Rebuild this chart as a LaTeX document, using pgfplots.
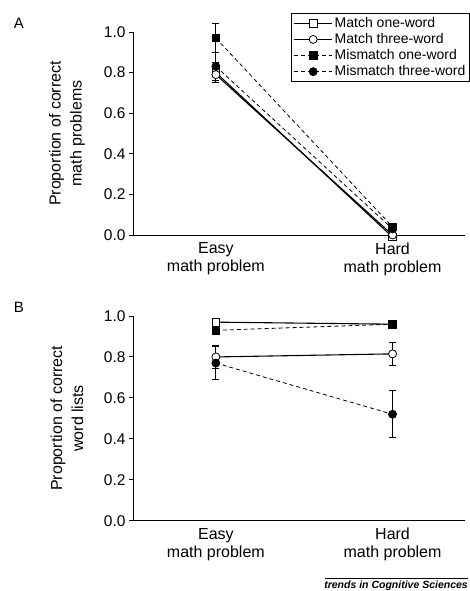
\documentclass[border=0pt]{standalone}
\usepackage{fontspec}
\setmainfont{Liberation Sans}
\usepackage{pgfplots}
\pgfplotsset{compat=1.18}
\pgfplotsset{
 panel/.style={
  scale only axis, width=332bp,
  xmin=-0.469, xmax=1.41, ymin=0, ymax=1,
  axis lines=left, axis line style={-, line width=1pt},
  xtick={0,1}, xticklabels={{Easy\\math problem},{Hard\\math problem}},
  xticklabel style={align=center, font=\fontsize{16bp}{18bp}\selectfont},
  x tick style={draw=none},
  ytick={0,0.2,0.4,0.6,0.8,1.0},
  yticklabel style={font=\fontsize{15.5bp}{17bp}\selectfont},
  /pgf/number format/fixed, /pgf/number format/fixed zerofill,
  /pgf/number format/precision=1, /pgf/number format/assume math mode=true,
  tick align=outside, major tick length=4bp, y tick style={line width=1pt, black},
  ylabel style={at={(axis description cs:-0.199,0.5)}, anchor=center, align=center, font=\fontsize{16bp}{21bp}\selectfont},
  clip=false,
  legend image code/.code={\draw[mark repeat=2,mark phase=2,##1] plot coordinates {(0bp,0bp)(19bp,0bp)(38bp,0bp)};},
 },
 eb/.style={error bars/y dir=both, error bars/y explicit, error bars/error mark options={rotate=90, mark size=3.5bp, line width=0.8pt, solid}, error bars/error bar style={line width=0.8pt, solid}},
 mos/.style={eb, black, solid, line width=1.1pt, mark=square*, mark options={solid, fill=white, line width=0.8pt}, mark size=3.8bp},
 moc/.style={eb, black, solid, line width=1.1pt, mark=*, mark options={solid, fill=white, line width=0.8pt}, mark size=4bp},
 mms/.style={eb, black, dash pattern=on 4pt off 3pt, line width=0.8pt, mark=square*, mark options={solid, fill=black}, mark size=3.8bp},
 mmc/.style={eb, black, dash pattern=on 4pt off 3pt, line width=0.8pt, mark=*, mark options={solid, fill=black}, mark size=4bp},
}
\begin{document}
\begin{tikzpicture}
\useasboundingbox (0,0) rectangle (470bp,-591bp);
\node[font=\fontsize{15bp}{17bp}\selectfont] at (19bp,-23bp) {A};
\node[font=\fontsize{15bp}{17bp}\selectfont] at (19bp,-307bp) {B};
\begin{axis}[panel, height=203bp, at={(133bp,-235bp)}, anchor=south west,
  ylabel={Proportion of correct\\math problems},
  legend style={at={(axis description cs:1.015,1.094)}, anchor=north east,
    font=\fontsize{14bp}{17bp}\selectfont, draw=black, line width=1.1pt,
    row sep=0.5bp, inner sep=2bp},
  legend cell align=left]
\addplot[mos] coordinates {(0,0.80) +- (0,0.05) (1,-0.01) +- (0,0)};
\addlegendentry{Match one-word}
\addplot[moc] coordinates {(0,0.79) +- (0,0.04) (1,0.00) +- (0,0)};
\addlegendentry{Match three-word}
\addplot[mms] coordinates {(0,0.97) +- (0,0.07) (1,0.04) +- (0,0)};
\addlegendentry{Mismatch one-word}
\addplot[mmc] coordinates {(0,0.83) +- (0,0.07) (1,0.03) +- (0,0)};
\addlegendentry{Mismatch three-word}
\end{axis}
\begin{axis}[panel, height=204.7bp, at={(133bp,-520.7bp)}, anchor=south west,
  ylabel={Proportion of correct\\word lists}]
\addplot[mos] coordinates {(0,0.97) +- (0,0.01) (1,0.96) +- (0,0.01)};
\addplot[moc] coordinates {(0,0.80) +- (0,0.055) (1,0.815) +- (0,0.055)};
\addplot[mms] coordinates {(0,0.93) +- (0,0.02) (1,0.96) +- (0,0.01)};
\addplot[mmc] coordinates {(0,0.77) +- (0,0.08) (1,0.52) +- (0,0.115)};
\end{axis}
\draw[line width=0.7pt] (325bp,-578bp) -- (468bp,-578bp);
\node[anchor=north east, inner sep=0pt, font=\fontsize{10.5bp}{11bp}\selectfont\bfseries\itshape] at (468bp,-580.5bp) {trends in Cognitive Sciences};
\end{tikzpicture}
\end{document}
